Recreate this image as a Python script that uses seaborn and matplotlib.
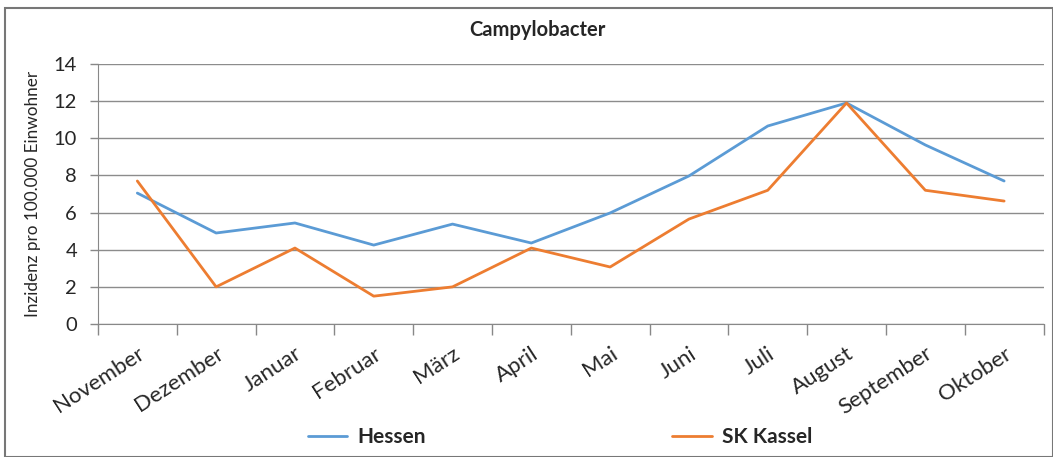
import numpy as np
import pandas as pd
import seaborn as sns
import matplotlib.pyplot as plt
from matplotlib.patches import Rectangle

months = ['November', 'Dezember', 'Januar', 'Februar', 'März', 'April',
          'Mai', 'Juni', 'Juli', 'August', 'September', 'Oktober']
hessen = [7.05, 4.9, 5.44, 4.25, 5.38, 4.36, 5.98, 7.97, 10.66, 11.9, 9.64, 7.7]
kassel = [7.7, 2.0, 4.09, 1.5, 2.0, 4.09, 3.07, 5.65, 7.2, 11.9, 7.2, 6.62]

df = pd.DataFrame({
    'Monat': months * 2,
    'Inzidenz': hessen + kassel,
    'Region': ['Hessen'] * 12 + ['SK Kassel'] * 12,
})

sns.set_style('white')
plt.rcParams['font.family'] = ['Lato', 'DejaVu Sans']

fig = plt.figure(figsize=(10.53, 4.57), dpi=100)
ax = fig.add_axes([0.093, 0.291, 0.898, 0.569])

sns.lineplot(data=df, x='Monat', y='Inzidenz', hue='Region', sort=False,
             palette={'Hessen': '#5B9BD5', 'SK Kassel': '#ED7D31'},
             linewidth=2.0, ax=ax, legend=False)

ax.set_xlim(-0.5, 11.5)
ax.set_ylim(0, 14)
ax.set_yticks(range(0, 15, 2))
ax.set_xticks(range(12))
ax.set_xticklabels(months, rotation=33, ha='right', rotation_mode='anchor', fontsize=16)
ax.set_xticks(np.arange(-0.5, 12, 1), minor=True)
ax.tick_params(axis='x', which='major', length=0, pad=14)
ax.tick_params(axis='x', which='minor', length=8, color='#888888', width=1, bottom=True)
ax.tick_params(axis='y', length=6, color='#888888', width=1, left=True, labelsize=14.5, pad=9)
ax.yaxis.grid(True, color='#8c8c8c', linewidth=1)
ax.set_axisbelow(True)
for s in ['top', 'right']:
    ax.spines[s].set_visible(False)
ax.spines['left'].set_color('#888888')
ax.spines['bottom'].set_color('#888888')
ax.set_xlabel('')
ax.set_ylabel('Inzidenz pro 100.000 Einwohner', fontsize=12.3, labelpad=9)
ax.set_title('Campylobacter', fontsize=14.5, fontweight='bold', pad=20, x=0.465)

# legend at bottom
h1, = ax.plot([], [], color='#5B9BD5', linewidth=2.0)
h2, = ax.plot([], [], color='#ED7D31', linewidth=2.0)
fig.legend([h1, h2], ['Hessen', 'SK Kassel'], loc='center', bbox_to_anchor=(0.532, 0.044),
           ncol=2, frameon=False, columnspacing=11.8, handlelength=1.9, handletextpad=0.5,
           prop={'size': 15, 'weight': 'bold'})

fig.patches.append(Rectangle((0.005, 0.0), 0.995, 0.982, transform=fig.transFigure,
                             fill=False, edgecolor='#777777', linewidth=1.5))

fig.savefig('out.png', dpi=100)
